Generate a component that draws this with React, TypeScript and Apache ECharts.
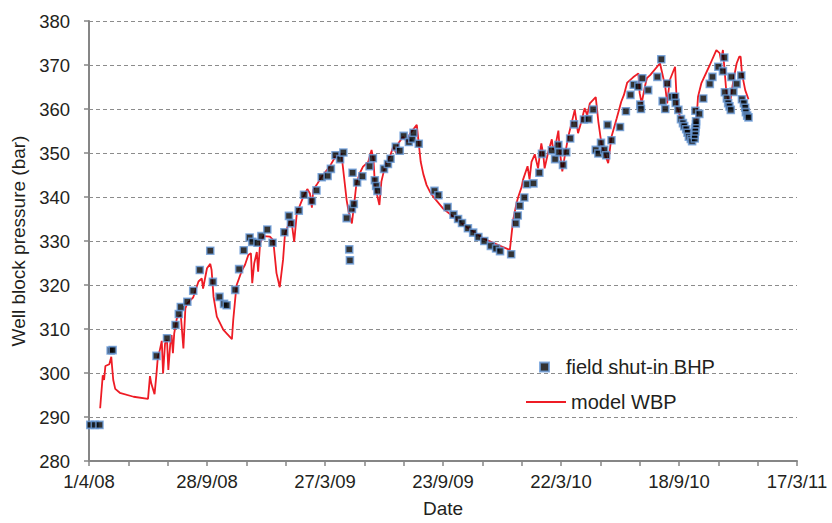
import React, { useEffect, useRef } from "react";
import * as echarts from "echarts";

// Day 0 = 1 April 2008
const START = Date.UTC(2008, 3, 1);
const DAY = 86400000;

// field shut-in BHP (days since 1/4/08, bar)
const shutInDays = [
  2, 9, 16, 33, 36, 103, 119, 132, 137, 140, 150, 159, 169, 185, 189, 199, 206, 210, 223, 229,
  236, 245, 249, 257, 263, 272, 280, 298, 305, 308, 320, 328, 340, 347, 355, 364, 369, 376, 383, 388,
  393, 397, 398, 401, 402, 404, 409, 417, 428, 433, 436, 438, 440, 450, 456, 460, 468, 474, 480, 488,
  493, 495, 503, 527, 533, 547, 556, 563, 569, 578, 586, 594, 603, 613, 621, 627, 644, 651, 654, 657,
  664, 668, 678, 687, 691, 706, 711, 716, 717, 723, 728, 734, 740, 755, 762, 769, 773, 777, 781, 786,
  789, 791, 797, 810, 819, 826, 831, 838, 841, 842, 844, 853, 867, 873, 875, 879, 882, 889, 894, 895,
  899, 903, 906, 908, 911, 913, 915, 918, 920, 924, 924, 925, 925, 926, 926, 925, 931, 937, 947, 951,
  960, 967, 969, 970, 973, 975, 977, 979, 980, 983, 988, 995, 996, 999, 1001, 1002, 1004, 1006,
];
const shutInBHP = [
  288.2, 288.2, 288.2, 305.1, 305.2, 303.9, 307.9, 310.9, 313.4, 315.0, 316.2, 318.7, 323.4, 327.8, 320.7, 317.3, 315.7, 315.4, 318.9, 323.6,
  327.9, 330.8, 329.8, 329.6, 331.1, 332.6, 329.6, 332.0, 335.7, 334.0, 336.9, 340.5, 339.1, 341.5, 344.5, 344.8, 346.4, 349.5, 348.6, 350.1,
  335.2, 328.1, 325.6, 337.3, 345.5, 338.4, 343.3, 344.7, 347.0, 348.8, 343.8, 342.5, 341.4, 346.4, 347.5, 348.7, 351.4, 350.5, 353.9, 352.5,
  353.2, 354.6, 352.1, 341.4, 340.4, 337.7, 336.0, 335.0, 334.1, 332.9, 331.9, 330.9, 330.0, 328.9, 328.3, 327.7, 327.0, 334.0, 335.8, 338.0,
  339.9, 342.9, 343.1, 345.5, 349.8, 350.6, 348.6, 351.8, 350.2, 347.3, 350.2, 353.3, 356.5, 357.6, 357.7, 359.9, 350.7, 349.9, 352.3, 350.7,
  349.5, 356.4, 352.9, 355.9, 359.5, 363.2, 365.5, 365.1, 361.0, 360.0, 367.0, 364.3, 367.3, 371.3, 361.8, 360.0, 365.8, 362.8, 362.8, 361.4,
  359.8, 357.7, 356.8, 356.1, 355.4, 354.6, 353.7, 353.2, 352.7, 353.3, 354.1, 354.9, 355.7, 356.5, 357.2, 359.6, 358.9, 362.4, 365.7, 367.3,
  369.6, 368.6, 371.7, 363.8, 362.4, 361.3, 360.6, 359.8, 367.3, 363.9, 365.7, 367.6, 362.2, 361.3, 360.3, 359.3, 358.5, 358.1,
];

// model WBP (days since 1/4/08, bar)
const modelDays = [
  17, 18, 21, 23, 25, 31, 34, 35, 37, 40, 47, 68, 90, 93, 95, 100, 103, 105, 108, 111,
  113, 116, 119, 121, 124, 126, 128, 130, 134, 140, 144, 147, 150, 159, 167, 172, 174, 180, 185, 187,
  190, 195, 205, 218, 220, 225, 233, 238, 243, 247, 249, 252, 256, 258, 261, 266, 276, 281, 284, 286,
  291, 296, 299, 307, 309, 313, 317, 327, 333, 337, 340, 342, 347, 355, 367, 376, 385, 389, 393, 396,
  401, 404, 408, 413, 418, 426, 431, 434, 436, 440, 443, 446, 452, 459, 464, 469, 472, 479, 485, 490,
  500, 503, 506, 510, 515, 520, 525, 540, 556, 576, 601, 627, 642, 647, 652, 655, 660, 662, 669, 672,
  675, 680, 685, 690, 693, 695, 700, 706, 708, 712, 716, 718, 722, 726, 731, 736, 741, 746, 751, 756,
  760, 764, 773, 777, 782, 792, 797, 805, 812, 816, 821, 830, 838, 840, 843, 848, 851, 856, 871, 879,
  882, 886, 894, 897, 901, 906, 916, 925, 929, 934, 947, 957, 962, 964, 967, 972, 977, 983, 988, 992,
  994, 996, 1001, 1006,
];
const modelWBP = [
  292.0, 293.9, 299.5, 298.4, 301.6, 302.0, 303.7, 301.8, 298.4, 296.4, 295.5, 294.6, 294.1, 299.3, 297.6, 295.2, 299.9, 303.6, 305.2, 307.3,
  299.9, 306.7, 307.5, 300.7, 306.7, 308.6, 304.5, 309.0, 312.4, 313.2, 305.6, 314.7, 315.8, 317.2, 320.8, 321.5, 319.2, 323.8, 324.8, 323.4,
  317.3, 312.8, 309.8, 307.7, 312.0, 319.9, 323.2, 324.6, 326.8, 327.2, 320.4, 324.9, 327.5, 323.0, 329.5, 331.1, 331.0, 330.2, 325.7, 322.7,
  319.5, 325.7, 331.7, 334.8, 334.4, 329.8, 336.3, 340.1, 341.8, 340.8, 337.6, 341.6, 342.7, 344.6, 346.9, 349.2, 349.9, 344.6, 339.3, 336.7,
  334.0, 337.8, 343.1, 345.4, 346.9, 348.0, 350.7, 348.4, 343.1, 340.1, 338.2, 343.5, 347.3, 349.2, 351.4, 349.9, 352.2, 353.7, 352.6, 354.5,
  356.4, 352.2, 348.0, 345.2, 342.7, 341.2, 340.1, 337.4, 335.5, 333.2, 330.6, 328.9, 328.0, 334.8, 338.5, 340.1, 342.3, 343.9, 347.0, 344.0,
  348.0, 349.7, 346.5, 352.2, 349.5, 346.5, 349.9, 353.1, 350.7, 352.0, 355.1, 350.7, 345.8, 349.5, 353.7, 356.7, 359.8, 354.5, 357.1, 360.2,
  358.6, 361.3, 362.7, 357.1, 351.8, 347.7, 353.7, 357.9, 361.7, 363.2, 366.0, 367.2, 368.1, 363.6, 361.3, 365.1, 367.0, 367.7, 370.4, 365.1,
  361.3, 366.6, 369.6, 360.5, 358.6, 356.7, 354.1, 353.7, 362.8, 365.8, 370.0, 373.4, 372.7, 371.1, 373.4, 364.3, 360.5, 366.6, 370.4, 371.9,
  371.9, 368.1, 364.3, 362.2,
];

const xMin = 0;
const xMax = 1080;
const xTickStep = 60;
const xLabelStep = 180;
const yMin = 280;
const yMax = 380;
const yStep = 10;

const FONT = "'Liberation Sans', Arial, sans-serif";
const TEXT = "#231f20";
const AXIS = "#868686";
const RED = "#ee1c25";

function dayLabel(v: number): string {
  if (Math.round(v) % xLabelStep !== 0) return "";
  const d = new Date(START + v * DAY);
  const yy = String(d.getUTCFullYear() % 100).padStart(2, "0");
  return `${d.getUTCDate()}/${d.getUTCMonth() + 1}/${yy}`;
}

export default function App() {
  const ref = useRef<HTMLDivElement>(null);

  useEffect(() => {
    if (!ref.current) return;
    const chart = echarts.init(ref.current, undefined, { renderer: "svg" });
    const scatterData = shutInDays.map((d, i) => [d, shutInBHP[i]]);
    const lineData = modelDays.map((d, i) => [d, modelWBP[i]]);
    chart.setOption({
      animation: false,
      backgroundColor: "#ffffff",
      textStyle: { fontFamily: FONT },
      grid: { left: 89, right: 35, top: 21, bottom: 62, containLabel: false },
      legend: [
        {
          data: ["field shut-in BHP"],
          left: 534,
          top: 352,
          itemWidth: 9,
          itemHeight: 9,
          textStyle: { fontSize: 20, color: TEXT, fontFamily: FONT, padding: [0, 0, 0, 12] },
        },
        {
          data: [{ name: "model WBP", icon: "rect" }],
          left: 521,
          top: 387,
          itemWidth: 40,
          itemHeight: 2,
          itemGap: 0,
          itemStyle: { color: RED, borderWidth: 0 },
          textStyle: { fontSize: 20, color: TEXT, fontFamily: FONT },
        },
      ],
      xAxis: {
        type: "value",
        min: xMin,
        max: xMax,
        interval: xTickStep,
        name: "Date",
        nameLocation: "middle",
        nameGap: 38,
        nameTextStyle: { fontSize: 19, color: TEXT, fontFamily: FONT },
        axisLine: { onZero: false, lineStyle: { color: AXIS, width: 2 } },
        axisTick: { show: true, length: 5, lineStyle: { color: AXIS, width: 1.5 } },
        axisLabel: {
          formatter: dayLabel,
          fontSize: 18.5,
          color: TEXT,
          margin: 11,
          fontFamily: FONT,
        },
        splitLine: { show: false },
      },
      yAxis: {
        type: "value",
        min: yMin,
        max: yMax,
        interval: yStep,
        name: "Well block pressure (bar)",
        nameLocation: "middle",
        nameGap: 55,
        nameTextStyle: { fontSize: 19, color: TEXT, fontFamily: FONT },
        axisLine: { show: true, lineStyle: { color: AXIS, width: 2 } },
        axisTick: { show: true, length: 5, lineStyle: { color: AXIS, width: 1.5 } },
        axisLabel: { fontSize: 18.5, color: TEXT, margin: 19, fontFamily: FONT },
        splitLine: { show: true, lineStyle: { color: "#8c8c8c", width: 1, type: [4, 3] } },
      },
      series: [
        {
          name: "field shut-in BHP",
          type: "scatter",
          data: scatterData,
          symbol: "rect",
          symbolSize: 7,
          itemStyle: { color: "#000000", borderColor: "#6a9bd8", borderWidth: 1.6 },
          z: 3,
        },
        {
          name: "model WBP",
          type: "line",
          data: lineData,
          symbol: "none",
          showSymbol: false,
          lineStyle: { color: RED, width: 1.8 },
          itemStyle: { color: RED },
          z: 2,
        },
      ],
    });
    return () => chart.dispose();
  }, []);

  return (
    <div
      ref={ref}
      style={{ position: "fixed", left: 0, top: 0, width: 832, height: 523, background: "#fff" }}
    />
  );
}
